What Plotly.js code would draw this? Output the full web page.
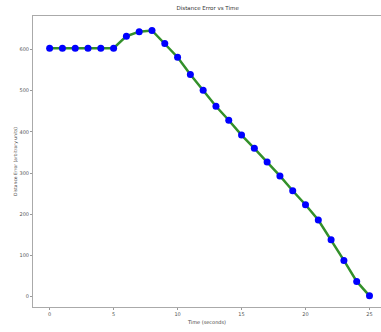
<!DOCTYPE html>
<html>
<head>
<meta charset="utf-8">
<script src="https://cdn.plot.ly/plotly-3.0.1.min.js"></script>
<style>html,body{margin:0;padding:0;background:#fff;}#chart{width:381px;height:332px;}</style>
</head>
<body>
<div id="chart"></div>
<script>
const timeSeconds = [0,1,2,3,4,5,6,7,8,9,10,11,12,13,14,15,16,17,18,19,20,21,22,23,24,25];
const distanceError = [603,603,603,603,603,603,632,643,646,614,581,539,501,462,428,392,360,327,293,257,223,186,138,88,37,2];
const xTickVals = [0,5,10,15,20,25];
const yTickVals = [0,100,200,300,400,500,600];

const trace = {
  x: timeSeconds,
  y: distanceError,
  type: 'scatter',
  mode: 'lines+markers',
  line: {color: '#33902a', width: 2.5},
  marker: {color: '#0000ff', size: 7, symbol: 'circle'},
  hoverinfo: 'skip'
};

const layout = {
  width: 381, height: 332,
  margin: {l: 33, r: 0, t: 16, b: 25},
  paper_bgcolor: '#ffffff',
  plot_bgcolor: '#ffffff',
  showlegend: false,
  font: {family: 'DejaVu Sans, sans-serif', size: 5, color: '#444'},
  title: {text: 'Distance Error vs Time', font: {size: 5.5, color: '#333'}, x: 0.545, xanchor: 'center', y: 0.975, yanchor: 'middle'},
  xaxis: {
    range: [-1.3, 25.9],
    tickvals: xTickVals,
    ticks: 'outside', ticklen: 2, tickcolor: '#999',
    showgrid: false, zeroline: false,
    showline: true, linecolor: '#aaa', linewidth: 1, mirror: true,
    tickfont: {size: 5, color: '#555'},
    title: {text: 'Time (seconds)', font: {size: 5, color: '#444'}, standoff: 4}
  },
  yaxis: {
    range: [-25, 681],
    tickvals: yTickVals,
    ticks: 'outside', ticklen: 2, tickcolor: '#999',
    showgrid: false, zeroline: false,
    showline: true, linecolor: '#aaa', linewidth: 1, mirror: true,
    tickfont: {size: 5, color: '#555'},
    title: {text: 'Distance Error (arbitrary units)', font: {size: 4.5, color: '#444'}, standoff: 1}
  }
};

Plotly.newPlot('chart', [trace], layout, {displayModeBar: false, staticPlot: true});
</script>
</body>
</html>
